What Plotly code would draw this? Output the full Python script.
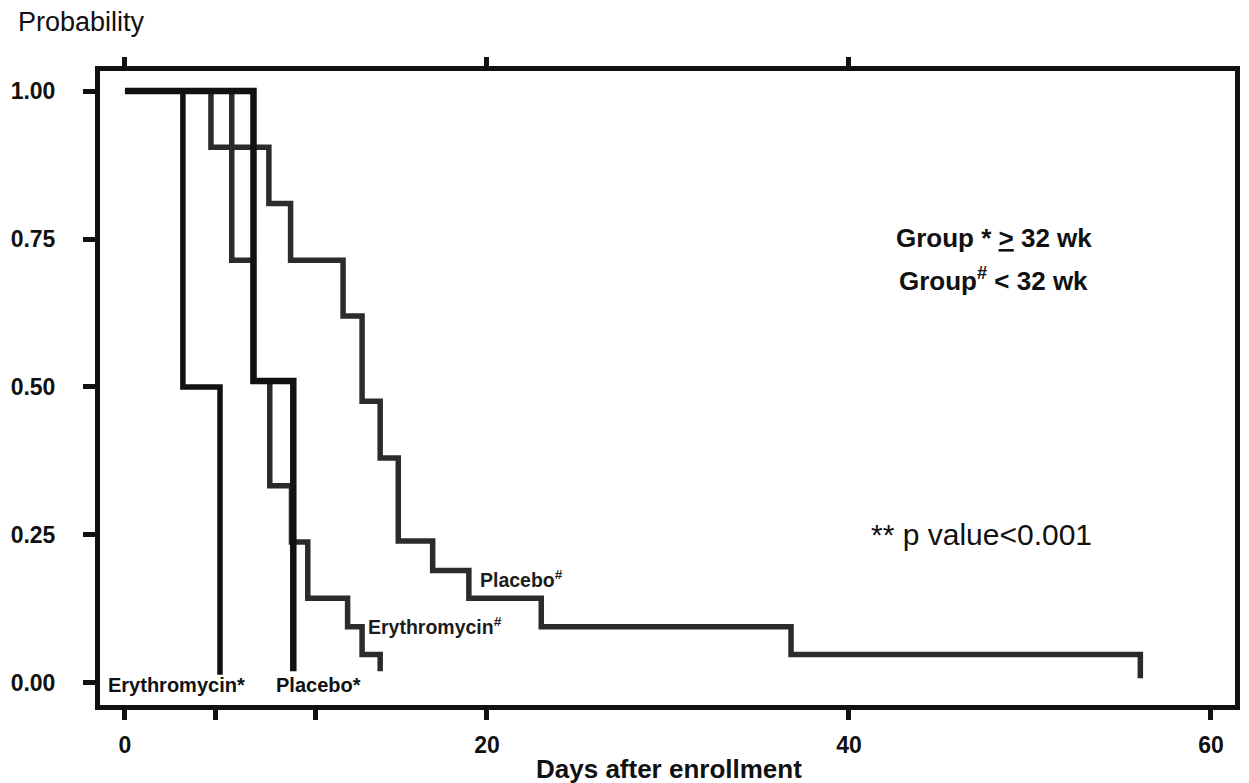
import plotly.graph_objects as go

# ---- data ----
ery_star_days = [0, 3.2, 5.25]
ery_star_prob = [1.0, 0.50, 0.014]

plac_star_days = [0, 7.1, 9.3]
plac_star_prob = [1.0, 0.51, 0.02]

ery_hash_days = [0, 5.9, 7.1, 8.0, 9.2, 10.1, 12.3, 13.1, 14.1]
ery_hash_prob = [1.0, 0.714, 0.51, 0.333, 0.238, 0.143, 0.095, 0.048, 0.02]

plac_hash_days = [0, 4.75, 7.95, 9.15, 12.05, 13.1, 14.1, 15.1, 17.0, 19.0, 23.0, 36.8, 56.1]
plac_hash_prob = [1.0, 0.905, 0.81, 0.714, 0.62, 0.476, 0.38, 0.24, 0.19, 0.143, 0.095, 0.048, 0.008]

x_tickvals = [0, 20, 40, 60]
x_ticktext = ["0", "20", "40", "60"]
x_minor_tickvals = [5, 10.5]
top_tickvals = [0, 20, 40]
y_tickvals = [0, 0.25, 0.5, 0.75, 1.0]
y_ticktext = ["0.00", "0.25", "0.50", "0.75", "1.00"]

FONT = "Liberation Sans, Arial, sans-serif"
INK = "#111111"
GREY = "#2b2b2b"

fig = go.Figure()

def km(x, y, color, width):
    fig.add_trace(go.Scatter(x=x, y=y, mode="lines", line_shape="hv",
                             line=dict(color=color, width=width),
                             hoverinfo="skip", showlegend=False))

km(plac_hash_days, plac_hash_prob, GREY, 5.5)
km(ery_hash_days, ery_hash_prob, GREY, 5.5)
km(ery_star_days, ery_star_prob, INK, 5.5)
km(plac_star_days, plac_star_prob, INK, 6.5)

# invisible trace to anchor the top tick axis
fig.add_trace(go.Scatter(x=[0], y=[0.5], xaxis="x2", mode="markers",
                         marker=dict(opacity=0), hoverinfo="skip", showlegend=False))

xrange = [-1.38, 61.33]
yrange = [-0.0372, 1.0338]

# page body has an 8px margin: figure is sized/offset to compensate
fig.update_layout(
    width=1241, height=775, autosize=False,
    margin=dict(l=92, r=14, t=63, b=78, autoexpand=False),
    paper_bgcolor="white", plot_bgcolor="white",
    showlegend=False,
    font=dict(family=FONT, color=INK),
    xaxis=dict(range=xrange, showline=True, linewidth=5, linecolor=INK, mirror=True,
               ticks="outside", ticklen=10, tickwidth=5, tickcolor=INK,
               tickvals=x_tickvals, ticktext=x_ticktext,
               minor=dict(tickvals=x_minor_tickvals, ticks="outside", ticklen=10,
                          tickwidth=5, tickcolor=INK, showgrid=False),
               tickfont=dict(size=23, family=FONT, weight="bold", color=INK),
               ticklabelstandoff=5, automargin=False,
               showgrid=False, zeroline=False, fixedrange=True),
    xaxis2=dict(range=xrange, overlaying="x", side="top", anchor="y",
                showline=True, linewidth=5, linecolor=INK,
                ticks="outside", ticklen=9, tickwidth=5, tickcolor=INK,
                tickvals=top_tickvals, showticklabels=False, automargin=False,
                showgrid=False, zeroline=False, fixedrange=True),
    yaxis=dict(range=yrange, showline=True, linewidth=5, linecolor=INK, mirror=True,
               ticks="outside", ticklen=12, tickwidth=5, tickcolor=INK,
               tickvals=y_tickvals, ticktext=y_ticktext,
               tickfont=dict(size=23, family=FONT, weight="bold", color=INK),
               ticklabelstandoff=23, automargin=False,
               showgrid=False, zeroline=False, fixedrange=True),
)

def note(text, x, y, size, bold=True, xanchor="left", yanchor="middle",
         xref="x", yref="y", color=INK):
    fig.add_annotation(text=text, x=x, y=y, xref=xref, yref=yref,
                       xanchor=xanchor, yanchor=yanchor, showarrow=False,
                       font=dict(family=FONT, size=size, color=color,
                                 weight="bold" if bold else "normal"))

# curve labels
note("Erythromycin*", -1.05, -0.003, 20)
note("Placebo*", 8.25, -0.003, 20)
note("Erythromycin<sup>#</sup>", 13.3, 0.097, 19.5, color="#1c1c1c")
note("Placebo<sup>#</sup>", 19.5, 0.175, 19.5, color="#1c1c1c")

# group legend text
note("Group * <u>&gt;</u> 32 wk", 48.0, 0.752, 26, xanchor="center")
note("Group<sup>#</sup> &lt; 32 wk", 48.0, 0.682, 26, xanchor="center")
note("** p value&lt;0.001", 47.3, 0.25, 30, bold=False, xanchor="center")

# axis titles
note("Probability", -0.074, 1.077, 27, bold=False, xref="paper", yref="paper")
note("Days after enrollment", 0.501, -0.101, 26, xanchor="center", xref="paper", yref="paper")

fig.write_html("out.html")
